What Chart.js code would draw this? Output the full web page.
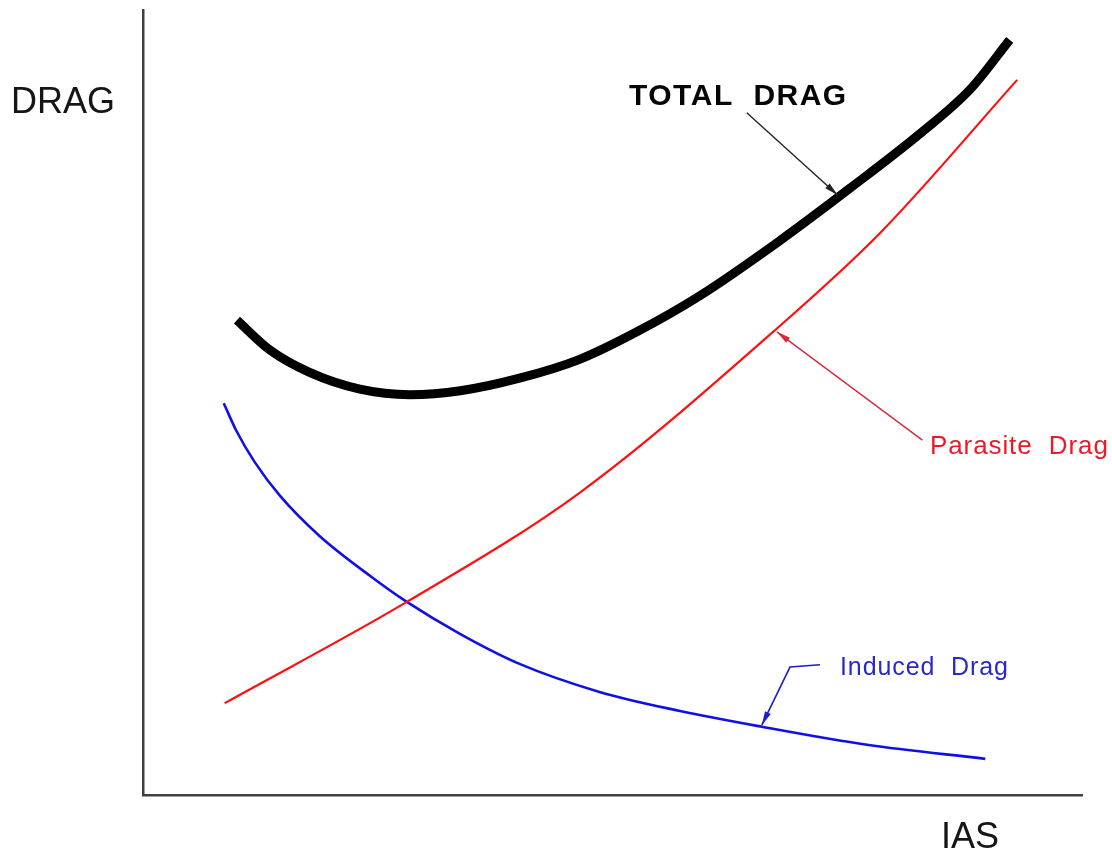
<!DOCTYPE html>
<html>
<head>
<meta charset="utf-8">
<script src="https://cdn.jsdelivr.net/npm/chart.js@4"></script>
<style>
  body { margin: 0; background: #fff; }
  #wrap { width: 1112px; height: 854px; position: relative; }
</style>
</head>
<body>
<div id="wrap"><canvas id="dragChart"></canvas></div>
<script>
// curves, IAS and drag in relative units (0-100)
const totalIas  = [10.0, 13.5, 17.8, 23.1, 28.4, 33.8, 40.1, 46.5, 52.9, 59.3, 67.8, 75.3, 82.7, 88.1, 92.3];
const totalDrag = [60.5, 56.7, 53.8, 51.7, 51.0, 51.5, 53.1, 55.5, 59.2, 63.6, 70.6, 77.3, 84.2, 89.9, 96.2];

const parasiteIas  = [8.7, 28.1, 46.5, 67.1, 78.5, 93.1];
const parasiteDrag = [11.7, 24.6, 38.5, 59.0, 71.6, 91.1];

const inducedIas  = [8.6, 9.9, 11.9, 14.6, 18.8, 24.2, 28.1, 33.8, 40.1, 48.7, 57.2, 65.9, 77.1, 89.7];
const inducedDrag = [49.9, 46.5, 42.4, 38.1, 33.0, 27.9, 24.6, 20.5, 16.7, 13.1, 10.7, 8.7, 6.4, 4.6];

function pts(xs, ys) {
    return xs.map((x, i) => ({x: x, y: ys[i]}));
}

const font = '"Liberation Sans", Arial, sans-serif';

function arrow(c, path, color, w) {
    c.strokeStyle = color;
    c.fillStyle = color;
    c.lineWidth = w;
    c.beginPath();
    c.moveTo(path[0][0], path[0][1]);
    for (let i = 1; i < path.length; i++) c.lineTo(path[i][0], path[i][1]);
    c.stroke();
    let [x1, y1] = path[path.length - 2];
    let [x2, y2] = path[path.length - 1];
    let a = Math.atan2(y2 - y1, x2 - x1);
    let len = 14, hw = 3.2;
    c.beginPath();
    c.moveTo(x2, y2);
    c.lineTo(x2 - len * Math.cos(a) + hw * Math.sin(a), y2 - len * Math.sin(a) - hw * Math.cos(a));
    c.lineTo(x2 - len * Math.cos(a) - hw * Math.sin(a), y2 - len * Math.sin(a) + hw * Math.cos(a));
    c.closePath();
    c.fill();
}

const annotate = {
    id: 'annotate',
    afterDatasetsDraw(chart) {
        const c = chart.ctx;
        const sx = chart.scales.x, sy = chart.scales.y;
        const p = (x, y) => [sx.getPixelForValue(x), sy.getPixelForValue(y)];
        c.save();
        c.textBaseline = 'alphabetic';
        c.textAlign = 'left';

        // axis names
        c.fillStyle = '#151515';
        c.font = '36px ' + font;
        c.fillText('DRAG', 11, 113);
        c.fillText('IAS', 941, 848);

        // curve labels
        c.font = 'bold 30px ' + font;
        c.letterSpacing = '1.5px';
        c.fillStyle = '#050505';
        c.fillText('TOTAL  DRAG', 629, 105);

        c.font = '26px ' + font;
        c.letterSpacing = '0.9px';
        c.fillStyle = 'rgb(232,28,40)';
        c.fillText('Parasite  Drag', 930, 454);

        c.font = '25px ' + font;
        c.fillStyle = 'rgb(40,40,205)';
        c.fillText('Induced  Drag', 840, 675);
        c.letterSpacing = '0px';

        // leader arrows
        arrow(c, [p(64.3, 86.9), p(74.0, 76.4)], '#222', 1.4);
        arrow(c, [p(83.0, 45.2), p(67.5, 59.0)], 'rgb(215,40,60)', 1.4);
        arrow(c, [p(72.1, 16.6), p(68.9, 16.3), p(65.9, 8.9)], 'rgb(30,30,200)', 1.6);
        c.restore();
    }
};

const hiddenAxis = {
    type: 'linear',
    min: 0,
    max: 100,
    ticks: { display: false },
    grid: { display: false, drawTicks: false },
    border: { display: true, color: '#404040', width: 2.5 }
};

new Chart(document.getElementById('dragChart'), {
    type: 'line',
    data: {
        datasets: [{
            label: 'Total Drag',
            data: pts(totalIas, totalDrag),
            borderColor: '#000',
            borderWidth: 9,
            cubicInterpolationMode: 'monotone',
            pointRadius: 0
        }, {
            label: 'Parasite Drag',
            data: pts(parasiteIas, parasiteDrag),
            borderColor: '#ff1010',
            borderWidth: 2.2,
            cubicInterpolationMode: 'monotone',
            pointRadius: 0
        }, {
            label: 'Induced Drag',
            data: pts(inducedIas, inducedDrag),
            borderColor: '#1010e6',
            borderWidth: 2.6,
            cubicInterpolationMode: 'monotone',
            pointRadius: 0
        }]
    },
    options: {
        responsive: true,
        maintainAspectRatio: false,
        animation: false,
        layout: { padding: { left: 143, top: 10, right: 30, bottom: 59 } },
        plugins: {
            legend: { display: false },
            tooltip: { enabled: false }
        },
        scales: {
            x: hiddenAxis,
            y: hiddenAxis
        }
    },
    plugins: [annotate]
});
</script>
</body>
</html>
